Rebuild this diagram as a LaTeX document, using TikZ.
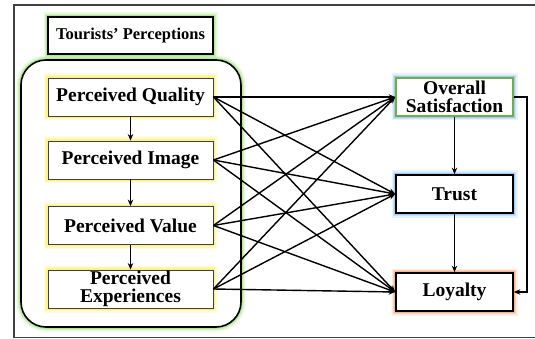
\documentclass[tikz,border=0pt]{standalone}
\usepackage{fontspec}
\setmainfont{Liberation Serif}
\usetikzlibrary{arrows.meta}
\definecolor{glowY}{HTML}{FFF06A}
\definecolor{glowG}{HTML}{9BE07A}
\definecolor{glowB}{HTML}{8CC0F0}
\definecolor{glowO}{HTML}{F4A070}
\definecolor{borderG}{HTML}{70AD47}
\tikzset{
  glow/.style={preaction={draw=#1, line width=9pt, draw opacity=0.2},
               preaction={draw=#1, line width=6pt, draw opacity=0.35},
               preaction={draw=#1, line width=3.5pt, draw opacity=0.6}},
  pbox/.style={draw=black!75, line width=0.9pt, fill=white, minimum width=165pt,
               minimum height=38pt, inner sep=0pt, align=center,
               font=\fontsize{19.5}{18.5}\selectfont\bfseries, glow=glowY},
  rbox/.style={draw=black, line width=1.7pt, fill=white, minimum width=117pt,
               minimum height=38pt, inner sep=0pt, align=center,
               font=\fontsize{19.5}{18.5}\selectfont\bfseries},
  conn/.style={line width=1.4pt, -{Stealth[length=6.5pt,width=5.5pt]}},
  plain/.style={line width=1.4pt}
}
\begin{document}
\begin{tikzpicture}[x=1pt,y=-1pt]
\useasboundingbox (0,0) rectangle (535,339);
% outer frame (open on the right)
\draw[black!75, line width=1.5pt] (535,5) -- (14,5) -- (14,337.5) -- (535,337.5);
% group container
\draw[black, line width=1.6pt, fill=white, rounded corners=25pt, glow=glowG]
  (21,60) rectangle (241,327);
% title
\node[draw=black, line width=2pt, fill=white, minimum width=165pt, minimum height=37pt,
      inner sep=0pt, font=\fontsize{16.5}{18}\selectfont\bfseries, glow=glowG]
  (tp) at (130.5,35.5) {Tourists’ Perceptions};
% left boxes
\node[pbox] (pq) at (130.5,97) {Perceived Quality};
\node[pbox] (pi) at (130.5,160) {Perceived Image};
\node[pbox] (pv) at (130.5,225.5) {Perceived Value};
\node[pbox] (pe) at (130.5,289) {Perceived\\Experiences};
% right boxes
\node[rbox, draw=borderG, glow=glowB] (os) at (454.5,97) {Overall\\Satisfaction};
\node[rbox, glow=glowB] (tr) at (454.5,194) {Trust};
\node[rbox, glow=glowO] (lo) at (454.5,292) {Loyalty};
% vertical arrows left
\draw[conn] (pq) -- (pi);
\draw[conn] (pi) -- (pv);
\draw[conn] (pv) -- (pe);
% cross connections
\foreach \s in {pq,pi,pv,pe}{
  \foreach \t in {os,tr,lo}{
    \draw[conn] (\s.east) -- (\t.west);
  }
}
% right chain
\draw[conn] (os) -- (tr);
\draw[conn] (tr) -- (lo);
\coordinate (c1) at (527,97);
\coordinate (c2) at (527,292);
\draw[conn] (os.east) -- (c1) -- (c2) -- (lo.east);
\end{tikzpicture}
\end{document}
